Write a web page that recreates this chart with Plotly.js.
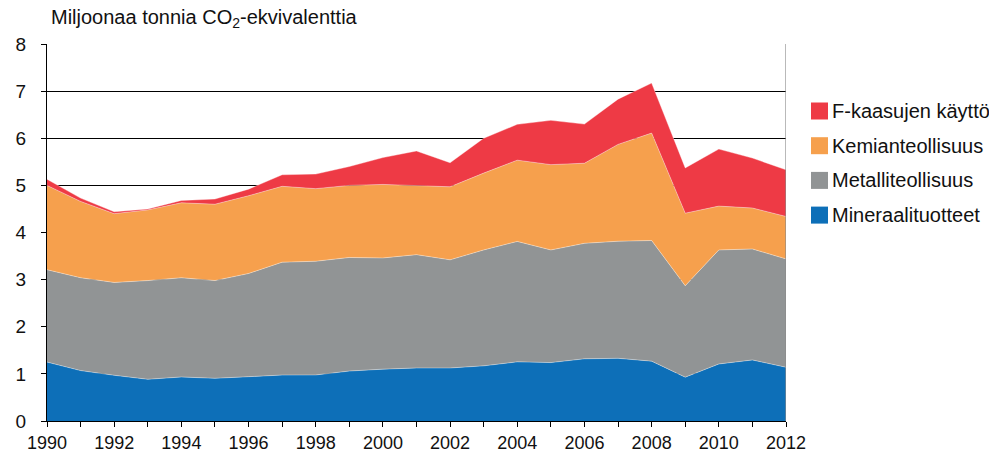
<!DOCTYPE html>
<html>
<head>
<meta charset="utf-8">
<script src="https://cdn.plot.ly/plotly-3.0.1.min.js"></script>
<style>html,body{margin:0;padding:0;background:#fff;}#chart{width:989px;height:459px;}</style>
</head>
<body>
<div id="chart"></div>
<script>
const years = [1990,1991,1992,1993,1994,1995,1996,1997,1998,1999,2000,2001,2002,2003,2004,2005,2006,2007,2008,2009,2010,2011,2012];
const mineraalituotteet = [1.25,1.07,0.97,0.885,0.934,0.906,0.94,0.975,0.977,1.06,1.10,1.125,1.125,1.17,1.255,1.24,1.32,1.33,1.27,0.93,1.21,1.295,1.14];
const metalliteollisuus = [1.96,1.97,1.97,2.095,2.106,2.074,2.19,2.395,2.413,2.41,2.36,2.405,2.295,2.46,2.555,2.39,2.45,2.485,2.56,1.94,2.42,2.355,2.30];
const kemianteollisuus = [1.79,1.62,1.46,1.50,1.59,1.62,1.65,1.61,1.54,1.53,1.56,1.47,1.55,1.63,1.725,1.81,1.70,2.055,2.28,1.54,0.93,0.87,0.90];
const fkaasut = [0.13,0.07,0.04,0.02,0.05,0.11,0.14,0.245,0.31,0.40,0.57,0.73,0.51,0.74,0.76,0.94,0.83,0.96,1.06,0.96,1.21,1.06,0.99];
const seriesNames = ["Mineraalituotteet","Metalliteollisuus","Kemianteollisuus","F-kaasujen käyttö"];
const seriesColors = ["#0d6fb8","#919495","#f6a04d","#ee3a45"];
const xTickVals = [1990,1992,1994,1996,1998,2000,2002,2004,2006,2008,2010,2012];
const yTickVals = [0,1,2,3,4,5,6,7,8];

const FONT = '"Liberation Sans",Arial,sans-serif';
const seriesData = [mineraalituotteet, metalliteollisuus, kemianteollisuus, fkaasut];

const traces = seriesData.map((vals, i) => ({
  x: years, y: vals, name: seriesNames[i], type: 'scatter', mode: 'lines',
  stackgroup: 'one', fillcolor: seriesColors[i],
  line: {width: 0.6, color: 'rgba(255,255,255,0.6)'},
  showlegend: false, hoverinfo: 'skip'
}));

const shapes = [
  {type:'line', xref:'x', yref:'y', x0:2012, x1:2012, y0:0, y1:8, line:{color:'#8a8a8a', width:1.2}, layer:'above'}
];
const annotations = [
  {xref:'paper', yref:'paper', x:0.003, y:1.028, xanchor:'left', yanchor:'bottom', showarrow:false,
   text:'Miljoonaa tonnia CO<sub>2</sub>-ekvivalenttia', font:{family:FONT, size:20, color:'#111'}}
];
const legendOrder = [3,2,1,0];
legendOrder.forEach((si, k) => {
  const cy = 111 + k*34.7;
  const yp = (421 - cy)/377;
  const h = 8.5/377;
  shapes.push({type:'rect', xref:'paper', yref:'paper', x0:(811-47)/739, x1:(828-47)/739, y0:yp-h, y1:yp+h,
    fillcolor: seriesColors[si], line:{width:0}});
  annotations.push({xref:'paper', yref:'paper', x:(830-47)/739, y:yp, xanchor:'left', yanchor:'middle',
    showarrow:false, text: seriesNames[si], font:{family:FONT, size:20, color:'#111'}});
});

const layout = {
  width: 989, height: 459,
  margin: {l:47, r:203, t:44, b:38},
  paper_bgcolor:'#fff', plot_bgcolor:'#fff',
  showlegend:false,
  font:{family:FONT, size:18, color:'#111'},
  xaxis: {
    range:[1990,2012], tickvals:xTickVals, ticktext:xTickVals.map(String),
    ticks:'outside', ticklen:5, tickcolor:'#000', tickwidth:1,
    showline:true, linecolor:'#000', linewidth:1.2, showgrid:false, zeroline:false,
    minor:{tickvals:years, ticks:'outside', ticklen:5, tickcolor:'#000', tickwidth:1, showgrid:false},
    tickfont:{family:FONT, size:18, color:'#111'}, fixedrange:true
  },
  yaxis: {
    range:[0,8], tickvals:yTickVals, ticks:'outside', ticklen:5, tickcolor:'#000', tickwidth:1,
    showline:true, linecolor:'#000', linewidth:1.2, showgrid:true, gridcolor:'#000', gridwidth:1.2,
    zeroline:false, ticklabelstandoff:11,
    tickfont:{family:FONT, size:19, color:'#111'}, fixedrange:true
  },
  shapes: shapes,
  annotations: annotations
};

Plotly.newPlot('chart', traces, layout, {displayModeBar:false, staticPlot:true});
</script>
</body>
</html>
